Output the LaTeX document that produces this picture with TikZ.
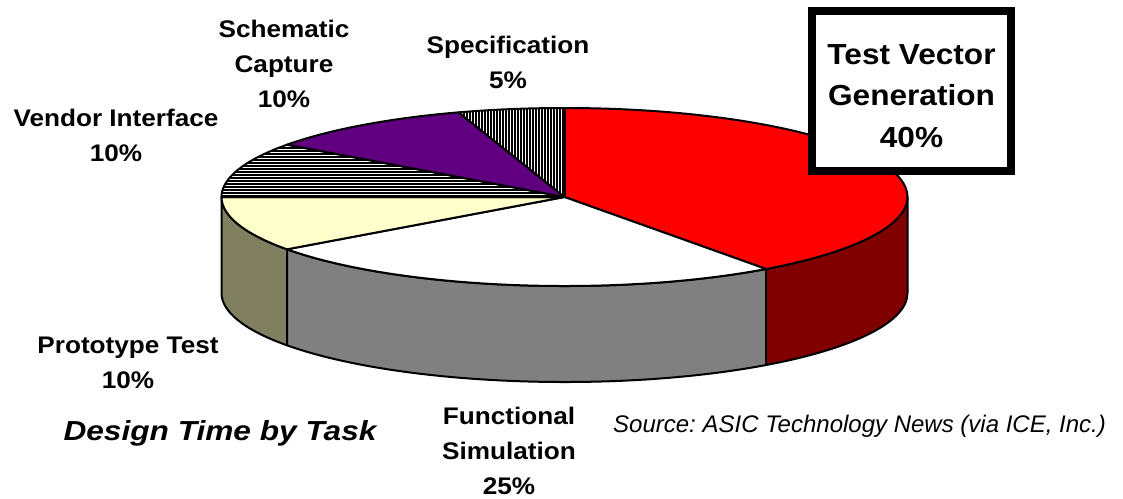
\documentclass[tikz,border=0pt]{standalone}
\usepackage{fontspec}
\setmainfont{Liberation Sans}
\newfontfamily\labfont{Liberation Sans}[FakeStretch=1.09]
\newfontfamily\titlefont{Liberation Sans}[FakeStretch=1.15]
\usetikzlibrary{calc}
\frenchspacing
\definecolor{pred}{RGB}{255,0,0}
\definecolor{pdred}{RGB}{128,0,0}
\definecolor{ppurple}{RGB}{96,0,128}
\definecolor{pyellow}{RGB}{255,255,204}
\definecolor{polive}{RGB}{128,128,96}
\definecolor{pgray}{RGB}{128,128,128}
\begin{document}
\begin{tikzpicture}[x=1pt,y=1pt,
  slice/.style={draw=black, line width=2pt, line join=round},
  hatchline/.style={draw=black, line width=1.2pt},
  lab/.style={font=\labfont\bfseries\fontsize{24}{35}\selectfont, align=center, inner sep=0pt, anchor=base},
  boxframe/.style={draw=black, fill=white, line width=8pt, minimum width=199pt, minimum height=160pt, inner sep=0pt},
  boxtext/.style={font=\labfont\bfseries\fontsize{29}{41.5}\selectfont, align=center, inner sep=0pt, anchor=base},
  er/.style={x radius=343, y radius=89}
]
\useasboundingbox (0,0) rectangle (1123,-498);
\coordinate (O) at (564.5,-197);
\coordinate (B) at (564.5,-293);
% side faces
\draw[slice, fill=polive] ($(O)+(180:343 and 89)$) arc[start angle=180, end angle=216, er] -- ($(B)+(216:343 and 89)$) arc[start angle=216, end angle=180, er] -- cycle;
\draw[slice, fill=pgray] ($(O)+(216:343 and 89)$) arc[start angle=216, end angle=306, er] -- ($(B)+(306:343 and 89)$) arc[start angle=306, end angle=216, er] -- cycle;
\draw[slice, fill=pdred] ($(O)+(306:343 and 89)$) arc[start angle=306, end angle=360, er] -- ($(B)+(0:343 and 89)$) arc[start angle=360, end angle=306, er] -- cycle;
% top faces
\draw[slice, fill=pred] (O) -- ++(90:343 and 89) arc[start angle=90, end angle=-54, er] -- cycle;
\draw[slice, fill=white] (O) -- ++(-54:343 and 89) arc[start angle=-54, end angle=-144, er] -- cycle;
\draw[slice, fill=pyellow] (O) -- ++(-144:343 and 89) arc[start angle=-144, end angle=-180, er] -- cycle;
% Vendor Interface: horizontal hatching
\begin{scope}
  \clip (O) -- ++(180:343 and 89) arc[start angle=180, end angle=144, er] -- cycle;
  \fill[white] (200,-100) rectangle (580,-200);
  \foreach \yy in {0,3,...,99} { \draw[hatchline] (200,-100-\yy) -- (580,-100-\yy); }
\end{scope}
\draw[slice] (O) -- ++(180:343 and 89) arc[start angle=180, end angle=144, er] -- cycle;
\draw[slice, fill=ppurple] (O) -- ++(144:343 and 89) arc[start angle=144, end angle=108, er] -- cycle;
% Specification: vertical hatching
\begin{scope}
  \clip (O) -- ++(108:343 and 89) arc[start angle=108, end angle=90, er] -- cycle;
  \fill[white] (440,-100) rectangle (570,-200);
  \foreach \xx in {0,3,...,129} { \draw[hatchline] (440+\xx,-100) -- (440+\xx,-200); }
\end{scope}
\draw[slice] (O) -- ++(108:343 and 89) arc[start angle=108, end angle=90, er] -- cycle;
% labels
\node[lab] (schem) at (284,-107) {Schematic\\Capture\\10\%};
\node[lab] (spec) at (508,-88) {Specification\\5\%};
\node[lab] (vendor) at (116,-161) {Vendor Interface\\10\%};
\node[lab] (proto) at (128,-388) {Prototype Test\\10\%};
\node[lab] (func) at (509,-494) {Functional\\Simulation\\25\%};
\node[boxframe] (tvgbox) at (911.5,-91) {};
\node[boxtext] (tvg) at (911.5,-147) {Test Vector\\Generation\\40\%};
\node[font=\titlefont\bfseries\itshape\fontsize{27.5}{32}\selectfont, inner sep=0pt, anchor=base] (title) at (220,-440) {Design Time by Task};
\node[font=\itshape\fontsize{24}{28}\selectfont, inner sep=0pt, anchor=base west] (source) at (613,-432) {Source: ASIC Technology News (via ICE, Inc.)};
\end{tikzpicture}
\end{document}
